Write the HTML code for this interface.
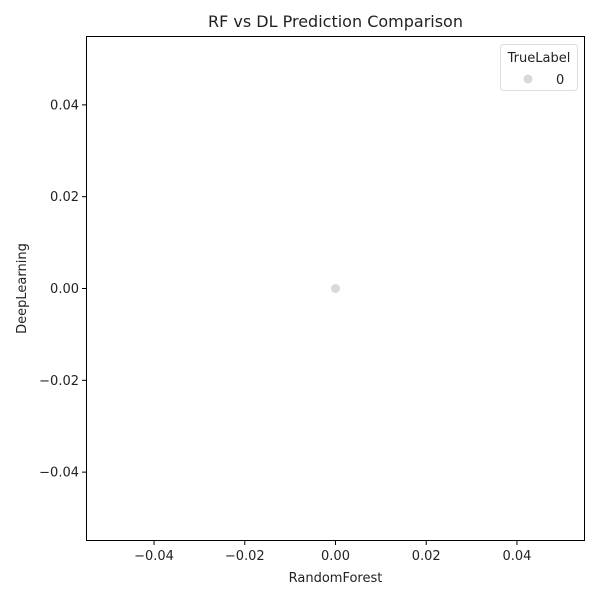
<!DOCTYPE html>
<html><head><meta charset="utf-8"><style>
body{margin:0;background:#fff;}
svg{font-family:"DejaVu Sans","Liberation Sans",sans-serif;}
</style></head><body>
<svg id="chart" width="600" height="600" viewBox="0 0 600 600" xmlns="http://www.w3.org/2000/svg">
<rect width="600" height="600" fill="#fff"/>
<text x="335.5" y="27" text-anchor="middle" font-size="16" fill="#222">RF vs DL Prediction Comparison</text>
<g id="xticks"></g>
<g id="yticks"></g>
<g id="points"></g>
<rect x="86.5" y="36.5" width="498" height="504" fill="none" stroke="#000" stroke-width="1"/>
<text x="335.5" y="582" text-anchor="middle" font-size="13" fill="#222">RandomForest</text>
<text transform="translate(26,288.5) rotate(-90)" text-anchor="middle" font-size="13" fill="#222">DeepLearning</text>
<g>
<rect x="500.5" y="44.5" width="77" height="46" rx="3" fill="#fff" stroke="#ddd"/>
<text x="539" y="62" text-anchor="middle" font-size="13" fill="#222">TrueLabel</text>
<circle cx="528" cy="79" r="4.5" fill="#d9d9d9"/>
<text x="556" y="84" font-size="13" fill="#222">0</text>
</g>
</svg>
<script>
const rfValues = [0];
const dlValues = [0];
const labels = [0];
const xTicks = [-0.04, -0.02, 0.00, 0.02, 0.04];
const yTicks = [-0.04, -0.02, 0.00, 0.02, 0.04];
const xMin=-0.055,xMax=0.055,yMin=-0.055,yMax=0.055;
const X0=86,X1=585,Y0=541,Y1=36;
function sx(v){return X0+(v-xMin)/(xMax-xMin)*(X1-X0);}
function sy(v){return Y0-(v-yMin)/(yMax-yMin)*(Y0-Y1);}
const NS="http://www.w3.org/2000/svg";
function fmt(v){return (v<0?"\u2212":"")+Math.abs(v).toFixed(2);}
const gx=document.getElementById('xticks');
xTicks.forEach(t=>{
  const l=document.createElementNS(NS,'line');
  l.setAttribute('x1',sx(t));l.setAttribute('x2',sx(t));l.setAttribute('y1',Y0);l.setAttribute('y2',Y0+4);l.setAttribute('stroke','#000');
  
  
  gx.appendChild(l);
  const tx=document.createElementNS(NS,'text');
  tx.setAttribute('x',sx(t));tx.setAttribute('y',Y0+19);tx.setAttribute('text-anchor','middle');tx.setAttribute('font-size','13');tx.setAttribute('fill','#222');
  tx.textContent=fmt(t);
  
  
  gx.appendChild(tx);
});
const gy=document.getElementById('yticks');
yTicks.forEach(t=>{
  const l=document.createElementNS(NS,'line');
  l.setAttribute('x1',X0-4);l.setAttribute('x2',X0);l.setAttribute('y1',sy(t));l.setAttribute('y2',sy(t));l.setAttribute('stroke','#000');
  
  
  gy.appendChild(l);
  const tx=document.createElementNS(NS,'text');
  tx.setAttribute('x',X0-7);tx.setAttribute('y',sy(t)+4.5);tx.setAttribute('text-anchor','end');tx.setAttribute('font-size','13');tx.setAttribute('fill','#222');
  tx.textContent=fmt(t);
  
  
  gy.appendChild(tx);
});
const gp=document.getElementById('points');
rfValues.forEach((v,i)=>{
  const c=document.createElementNS(NS,'circle');
  c.setAttribute('cx',sx(v));c.setAttribute('cy',sy(dlValues[i]));c.setAttribute('r',4.5);c.setAttribute('fill','#d9d9d9');
  
  
  gp.appendChild(c);
});
</script>
</body></html>
